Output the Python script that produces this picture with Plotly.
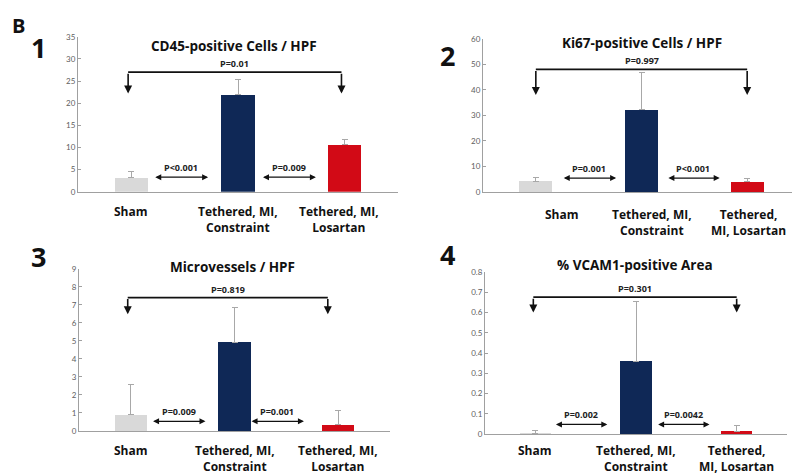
import plotly.graph_objects as go

GROUPS = ["Sham", "Tethered, MI, Constraint", "Tethered, MI, Losartan"]
BAR_COLORS = ["#d9d9d9", "#0f2856", "#d20a16"]

CD45_MEAN = [3.2, 21.9, 10.6]
CD45_SEM = [1.4, 3.5, 1.3]
KI67_MEAN = [4.3, 32.3, 4.1]
KI67_SEM = [1.5, 14.3, 1.2]
MICRO_MEAN = [0.9, 4.93, 0.34]
MICRO_SEM = [1.67, 1.92, 0.78]
VCAM_MEAN = [0.002, 0.36, 0.013]
VCAM_SEM = [0.017, 0.295, 0.029]

LABELS_A = ["Sham", "Tethered, MI,<br>Constraint", "Tethered, MI,<br>Losartan"]
LABELS_B = ["Sham", "Tethered, MI,<br>Constraint", "Tethered,<br>MI, Losartan"]

FONT = "'Open Sans', Lato, sans-serif"
TICK_FONT = "Lato, 'Open Sans', sans-serif"

# page body has an 8px margin, so the figure starts 8px in from the corner
OFF = 8
W, H = 800 - OFF, 476 - OFF


def fx(px):
    return min(max((px - OFF) / W, 0), 1)


def fy(py):
    return min(max(1 - (py - OFF) / H, 0), 1)


PANELS = [
    dict(mean=CD45_MEAN, sem=CD45_SEM, title="CD45-positive Cells / HPF", num="1",
         xpx=(78, 398), ypx=(32.3, 190.7), ymax=35, dtick=5, labels=LABELS_A,
         lshift=[0, 0, -6], lab_y=-9, title_xy=(234, 42),
         p_outer="P=0.01", br=(-0.03, 1.97, 27.0, 22.2),
         p_l="P<0.001", p_r="P=0.009", arr=(0.21, 0.72, 1.22, 1.73, 3.3),
         num_xy=(38, 43)),
    dict(mean=KI67_MEAN, sem=KI67_SEM, title="Ki67-positive Cells / HPF", num="2",
         xpx=(483, 800), ypx=(34.3, 191), ymax=60, dtick=10, labels=LABELS_B,
         lshift=[26, 10, 1], lab_y=-12, title_xy=(642, 39),
         p_outer="P=0.997", br=(0.0, 2.0, 48.0, 38.0),
         p_l="P=0.001", p_r="P<0.001", arr=(0.25, 0.76, 1.24, 1.74, 5.5),
         num_xy=(447, 51)),
    dict(mean=MICRO_MEAN, sem=MICRO_SEM, title="Microvessels / HPF", num="3",
         xpx=(79, 390), ypx=(269.3, 435), ymax=9, dtick=1, labels=LABELS_A,
         lshift=[0, 0, 0], lab_y=-9, title_xy=(232, 267.5),
         p_outer="P=0.819", br=(-0.03, 1.90, 7.4, 6.47),
         p_l="P=0.009", p_r="P=0.001", arr=(0.20, 0.72, 1.15, 1.67, 0.53),
         num_xy=(38, 257)),
    dict(mean=VCAM_MEAN, sem=VCAM_SEM, title="% VCAM1-positive Area", num="4",
         xpx=(485, 787), ypx=(272.7, 438.3), ymax=0.8, dtick=0.1, labels=LABELS_B,
         lshift=[0, 0, 0], lab_y=-6, title_xy=(635, 265),
         p_outer="P=0.301", br=(-0.02, 2.0, 0.676, 0.60),
         p_l="P=0.002", p_r="P=0.0042", arr=(0.19, 0.715, 1.205, 1.73, 0.048),
         num_xy=(447, 255)),
]

fig = go.Figure()
annotations = []
shapes = []

for i, p in enumerate(PANELS, start=1):
    sfx = "" if i == 1 else str(i)
    xr, yr = f"x{sfx}", f"y{sfx}"

    fig.add_trace(go.Bar(
        x=list(range(len(GROUPS))), y=p["mean"],
        marker=dict(color=BAR_COLORS, line=dict(width=0)),
        width=0.31,
        error_y=dict(type="data", symmetric=False, array=p["sem"],
                     arrayminus=[0] * len(GROUPS), color="#a8a8a8",
                     thickness=1, width=3),
        xaxis=xr, yaxis=yr, showlegend=False, hoverinfo="skip",
    ))

    x0, x1 = p["xpx"]
    yt, yb = p["ypx"]
    fig.update_layout(**{
        f"xaxis{sfx}": dict(domain=[fx(x0), fx(x1)], range=[-0.5, 2.5],
                            anchor=yr, showline=True, linecolor="#a0a0a0",
                            linewidth=1, showgrid=False, zeroline=False,
                            showticklabels=False, ticks=""),
        f"yaxis{sfx}": dict(domain=[fy(yb), fy(yt)],
                            range=[0, p["ymax"]], dtick=p["dtick"],
                            anchor=xr, showline=True, linecolor="#a0a0a0",
                            linewidth=1, showgrid=False, zeroline=False,
                            ticks="inside", ticklen=3, tickcolor="#a0a0a0",
                            tickfont=dict(family=TICK_FONT, size=8, color="#606060")),
    })

    # group labels under the axis
    for k, lab in enumerate(p["labels"]):
        annotations.append(dict(
            x=k, xref=xr, y=0, yref=f"{yr} domain", yanchor="top",
            xanchor="center", yshift=p["lab_y"], xshift=p["lshift"][k],
            showarrow=False, text=f"<b>{lab}</b>", align="center",
            font=dict(family=FONT, size=12, color="#111111"),
        ))

    # panel title
    annotations.append(dict(
        x=fx(p["title_xy"][0]), y=fy(p["title_xy"][1]), xref="paper", yref="paper",
        xanchor="center", yanchor="middle", showarrow=False,
        text=f"<b>{p['title']}</b>",
        font=dict(family=FONT, size=13.5, color="#111111"),
    ))

    # panel number
    annotations.append(dict(
        x=fx(p["num_xy"][0]), y=fy(p["num_xy"][1]), xref="paper", yref="paper",
        xanchor="center", yanchor="middle", showarrow=False,
        text=f"<b>{p['num']}</b>",
        font=dict(family=FONT, size=27, color="#111111"),
    ))

    # outer bracket Sham vs Losartan
    bx0, bx1, btop, btip = p["br"]
    shapes.append(dict(type="line", xref=xr, yref=yr, x0=bx0, x1=bx1,
                       y0=btop, y1=btop, line=dict(color="#111111", width=1.8)))
    for bx in (bx0, bx1):
        annotations.append(dict(
            x=bx, y=btip, xref=xr, yref=yr, ax=bx, ay=btop, axref=xr, ayref=yr,
            showarrow=True, arrowhead=2, arrowsize=1, arrowwidth=1.6,
            arrowcolor="#111111", text="",
        ))
    annotations.append(dict(
        x=(bx0 + bx1) / 2, y=btop, xref=xr, yref=yr, yanchor="bottom", yshift=0,
        xanchor="center", showarrow=False, text=f"<b>{p['p_outer']}</b>",
        font=dict(family=FONT, size=9, color="#222222"),
    ))

    # short double-headed arrows between neighbours
    a0, a1, a2, a3, ay = p["arr"]
    for (s, e, txt) in ((a0, a1, p["p_l"]), (a2, a3, p["p_r"])):
        annotations.append(dict(
            x=e, y=ay, xref=xr, yref=yr, ax=s, ay=ay, axref=xr, ayref=yr,
            showarrow=True, arrowhead=2, arrowside="end+start", arrowsize=1,
            arrowwidth=1.2, arrowcolor="#111111", text="",
        ))
        annotations.append(dict(
            x=(s + e) / 2, y=ay, xref=xr, yref=yr, yanchor="bottom", yshift=1,
            xanchor="center", showarrow=False, text=f"<b>{txt}</b>",
            font=dict(family=FONT, size=9, color="#222222"),
        ))

annotations.append(dict(
    x=fx(18), y=fy(21), xref="paper", yref="paper", xanchor="center",
    yanchor="middle", showarrow=False,
    text="<b>B</b>", font=dict(family=FONT, size=20, color="#111111"),
))

fig.update_layout(
    width=W, height=H,
    margin=dict(l=0, r=0, t=0, b=0),
    paper_bgcolor="white", plot_bgcolor="white",
    annotations=annotations, shapes=shapes,
    bargap=0,
)

fig.write_html("out.html")
